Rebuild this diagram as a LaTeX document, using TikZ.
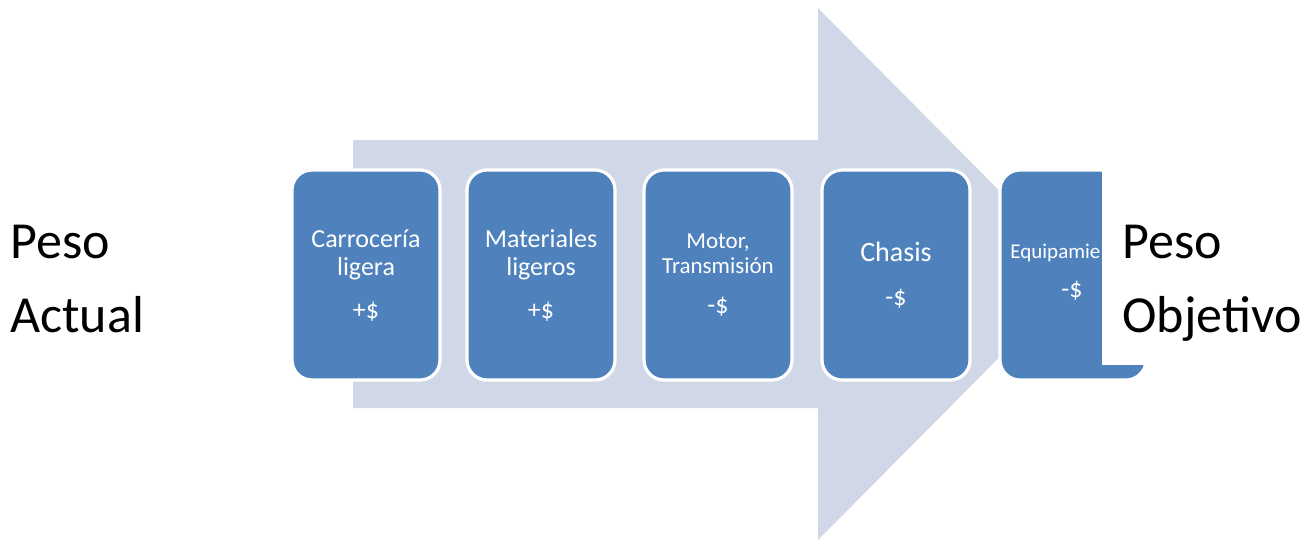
\documentclass[tikz,border=0pt]{standalone}
\usepackage{fontspec}
\setmainfont{Carlito}
\definecolor{arrowfill}{HTML}{D0D8E8}
\definecolor{boxfill}{HTML}{4F81BD}
\begin{document}
\begin{tikzpicture}[x=0.5pt,y=-0.5pt,
  stepbox/.style={draw=white,line width=1.6pt,fill=boxfill,rounded corners=10pt},
  boxtxt/.style={text=white,anchor=base,inner sep=0pt},
  bigtxt/.style={anchor=base west,inner sep=0pt,font=\fontsize{26}{30}\selectfont}]
\useasboundingbox (0,0) rectangle (1316,541);
% big arrow
\fill[arrowfill] (353,140) -- (818,140) -- (818,8) -- (1082,274) -- (818,540) -- (818,408) -- (353,408) -- cycle;
% boxes
\draw[stepbox] (292,170) rectangle (440,380) coordinate (b1ne);
\draw[stepbox] (467,170) rectangle (615,380);
\draw[stepbox] (644,170) rectangle (792,380);
\draw[stepbox] (822,170) rectangle (970,380);
\draw[stepbox] (1000,170) rectangle (1146,380);
% box texts
\node[boxtxt,font=\fontsize{13}{15}\selectfont] (t1a) at (366,247) {Carrocería};
\node[boxtxt,font=\fontsize{13}{15}\selectfont] (t1b) at (366,275) {ligera};
\node[boxtxt,font=\fontsize{13}{15}\selectfont] (t1c) at (366,318) {+\$};
\node[boxtxt,font=\fontsize{13}{15}\selectfont] (t2a) at (541,247) {Materiales};
\node[boxtxt,font=\fontsize{13}{15}\selectfont] (t2b) at (541,275) {ligeros};
\node[boxtxt,font=\fontsize{13}{15}\selectfont] (t2c) at (541,318) {+\$};
\node[boxtxt,font=\fontsize{11.5}{14}\selectfont] (t3a) at (718,248) {Motor,};
\node[boxtxt,font=\fontsize{11.5}{14}\selectfont] (t3b) at (718,273) {Transmisión};
\node[boxtxt,font=\fontsize{13}{15}\selectfont] (t3c) at (718,313) {-\$};
\node[boxtxt,font=\fontsize{14}{16}\selectfont] (t4a) at (896,261) {Chasis};
\node[boxtxt,font=\fontsize{13}{15}\selectfont] (t4c) at (896,305) {-\$};
\node[boxtxt,anchor=base west,font=\fontsize{10.5}{12}\selectfont] (t5a) at (1010,258) {Equipamie};
\node[boxtxt,font=\fontsize{13}{15}\selectfont] (t5c) at (1072,297) {-\$};
% white cover
\fill[white] (1102,170) rectangle (1316,365);
% side labels
\node[bigtxt] (pa1) at (10,258) {Peso};
\node[bigtxt] (pa2) at (10,332) {Actual};
\node[bigtxt] (po1) at (1122,258) {Peso};
\node[bigtxt] (po2) at (1122,332) {Objetivo};
\end{tikzpicture}
\end{document}
